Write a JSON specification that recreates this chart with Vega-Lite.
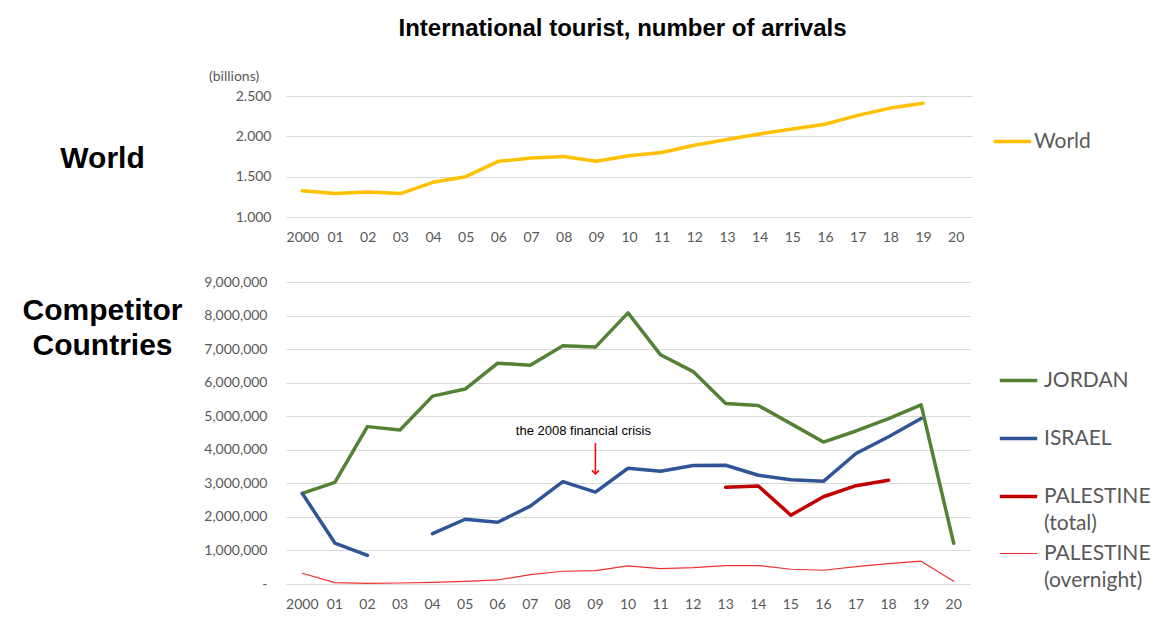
{
  "$schema": "https://vega.github.io/schema/vega-lite/v6.json",
  "background": "white",
  "padding": {"left": 22, "top": 17, "right": 0, "bottom": 0},
  "title": {"text": "International tourist, number of arrivals", "font": "Liberation Sans", "fontSize": 24, "fontWeight": "bold", "color": "#000000", "anchor": "middle", "offset": 29, "dx": 36},
  "config": {
    "font": "Lato",
    "view": {"stroke": null},
    "axis": {"labelFont": "Lato", "labelFontSize": 14, "labelColor": "#595959", "gridColor": "#D9D9D9", "gridWidth": 1, "domain": false, "ticks": false, "titleFont": "Liberation Sans", "titleFontSize": 30, "titleColor": "#000000", "titleFontWeight": "bold"},
    "axisX": {"grid": false, "labelAngle": 0, "labelPadding": 13},
    "axisY": {"grid": true, "labelPadding": 15},
    "legend": {"labelFont": "Lato", "labelFontSize": 21, "labelColor": "#595959", "symbolType": "stroke", "symbolSize": 1400, "labelOffset": 5, "title": null}
  },
  "datasets": {
    "world": [
      {"year": 2000, "value": 1.325, "series": "World"},
      {"year": 2001, "value": 1.29, "series": "World"},
      {"year": 2002, "value": 1.31, "series": "World"},
      {"year": 2003, "value": 1.29, "series": "World"},
      {"year": 2004, "value": 1.43, "series": "World"},
      {"year": 2005, "value": 1.50, "series": "World"},
      {"year": 2006, "value": 1.69, "series": "World"},
      {"year": 2007, "value": 1.73, "series": "World"},
      {"year": 2008, "value": 1.75, "series": "World"},
      {"year": 2009, "value": 1.69, "series": "World"},
      {"year": 2010, "value": 1.76, "series": "World"},
      {"year": 2011, "value": 1.80, "series": "World"},
      {"year": 2012, "value": 1.89, "series": "World"},
      {"year": 2013, "value": 1.96, "series": "World"},
      {"year": 2014, "value": 2.03, "series": "World"},
      {"year": 2015, "value": 2.09, "series": "World"},
      {"year": 2016, "value": 2.15, "series": "World"},
      {"year": 2017, "value": 2.26, "series": "World"},
      {"year": 2018, "value": 2.35, "series": "World"},
      {"year": 2019, "value": 2.41, "series": "World"}
    ],
    "comp": [
      {"year": 2000, "country": "JORDAN", "value": 2700000},
      {"year": 2001, "country": "JORDAN", "value": 3030000},
      {"year": 2002, "country": "JORDAN", "value": 4690000},
      {"year": 2003, "country": "JORDAN", "value": 4590000},
      {"year": 2004, "country": "JORDAN", "value": 5600000},
      {"year": 2005, "country": "JORDAN", "value": 5810000},
      {"year": 2006, "country": "JORDAN", "value": 6580000},
      {"year": 2007, "country": "JORDAN", "value": 6520000},
      {"year": 2008, "country": "JORDAN", "value": 7100000},
      {"year": 2009, "country": "JORDAN", "value": 7060000},
      {"year": 2010, "country": "JORDAN", "value": 8080000},
      {"year": 2011, "country": "JORDAN", "value": 6830000},
      {"year": 2012, "country": "JORDAN", "value": 6330000},
      {"year": 2013, "country": "JORDAN", "value": 5380000},
      {"year": 2014, "country": "JORDAN", "value": 5320000},
      {"year": 2015, "country": "JORDAN", "value": 4780000},
      {"year": 2016, "country": "JORDAN", "value": 4230000},
      {"year": 2017, "country": "JORDAN", "value": 4560000},
      {"year": 2018, "country": "JORDAN", "value": 4930000},
      {"year": 2019, "country": "JORDAN", "value": 5340000},
      {"year": 2020, "country": "JORDAN", "value": 1210000},
      {"year": 2000, "country": "ISRAEL", "value": 2700000},
      {"year": 2001, "country": "ISRAEL", "value": 1220000},
      {"year": 2002, "country": "ISRAEL", "value": 850000},
      {"year": 2003, "country": "ISRAEL", "value": null},
      {"year": 2004, "country": "ISRAEL", "value": 1500000},
      {"year": 2005, "country": "ISRAEL", "value": 1930000},
      {"year": 2006, "country": "ISRAEL", "value": 1840000},
      {"year": 2007, "country": "ISRAEL", "value": 2320000},
      {"year": 2008, "country": "ISRAEL", "value": 3050000},
      {"year": 2009, "country": "ISRAEL", "value": 2740000},
      {"year": 2010, "country": "ISRAEL", "value": 3450000},
      {"year": 2011, "country": "ISRAEL", "value": 3360000},
      {"year": 2012, "country": "ISRAEL", "value": 3530000},
      {"year": 2013, "country": "ISRAEL", "value": 3540000},
      {"year": 2014, "country": "ISRAEL", "value": 3240000},
      {"year": 2015, "country": "ISRAEL", "value": 3110000},
      {"year": 2016, "country": "ISRAEL", "value": 3060000},
      {"year": 2017, "country": "ISRAEL", "value": 3890000},
      {"year": 2018, "country": "ISRAEL", "value": 4390000},
      {"year": 2019, "country": "ISRAEL", "value": 4930000},
      {"year": 2013, "country": "PALESTINE (total)", "value": 2880000},
      {"year": 2014, "country": "PALESTINE (total)", "value": 2920000},
      {"year": 2015, "country": "PALESTINE (total)", "value": 2050000},
      {"year": 2016, "country": "PALESTINE (total)", "value": 2600000},
      {"year": 2017, "country": "PALESTINE (total)", "value": 2930000},
      {"year": 2018, "country": "PALESTINE (total)", "value": 3090000},
      {"year": 2000, "country": "PALESTINE (overnight)", "value": 320000},
      {"year": 2001, "country": "PALESTINE (overnight)", "value": 40000},
      {"year": 2002, "country": "PALESTINE (overnight)", "value": 20000},
      {"year": 2003, "country": "PALESTINE (overnight)", "value": 30000},
      {"year": 2004, "country": "PALESTINE (overnight)", "value": 50000},
      {"year": 2005, "country": "PALESTINE (overnight)", "value": 80000},
      {"year": 2006, "country": "PALESTINE (overnight)", "value": 120000},
      {"year": 2007, "country": "PALESTINE (overnight)", "value": 280000},
      {"year": 2008, "country": "PALESTINE (overnight)", "value": 380000},
      {"year": 2009, "country": "PALESTINE (overnight)", "value": 400000},
      {"year": 2010, "country": "PALESTINE (overnight)", "value": 540000},
      {"year": 2011, "country": "PALESTINE (overnight)", "value": 460000},
      {"year": 2012, "country": "PALESTINE (overnight)", "value": 490000},
      {"year": 2013, "country": "PALESTINE (overnight)", "value": 550000},
      {"year": 2014, "country": "PALESTINE (overnight)", "value": 550000},
      {"year": 2015, "country": "PALESTINE (overnight)", "value": 440000},
      {"year": 2016, "country": "PALESTINE (overnight)", "value": 410000},
      {"year": 2017, "country": "PALESTINE (overnight)", "value": 520000},
      {"year": 2018, "country": "PALESTINE (overnight)", "value": 610000},
      {"year": 2019, "country": "PALESTINE (overnight)", "value": 680000},
      {"year": 2020, "country": "PALESTINE (overnight)", "value": 80000}
    ]
  },
  "spacing": 31,
  "resolve": {
    "scale": {"color": "independent", "strokeWidth": "independent", "y": "independent"},
    "legend": {"color": "independent", "strokeWidth": "independent"}
  },
  "vconcat": [
    {
      "width": 686,
      "height": 121,
      "title": {"text": "(billions)", "anchor": "start", "frame": "group", "dx": -77, "offset": 5, "font": "Lato", "fontSize": 14, "fontWeight": "normal", "color": "#595959"},
      "data": {"name": "world"},
      "mark": {"type": "line", "strokeWidth": 3.5, "strokeJoin": "round", "strokeCap": "round"},
      "encoding": {
        "x": {"field": "year", "type": "ordinal", "title": null,
              "scale": {"domain": [2000,2001,2002,2003,2004,2005,2006,2007,2008,2009,2010,2011,2012,2013,2014,2015,2016,2017,2018,2019,2020]},
              "axis": {"labelExpr": "datum.value == 2000 ? '2000' : slice(datum.label, 2)"}},
        "y": {"field": "value", "type": "quantitative", "scale": {"domain": [1, 2.5]},
              "axis": {"values": [1, 1.5, 2, 2.5], "format": ".3f", "title": "World", "titleAngle": 0, "titleX": -184, "titleY": 62, "titleAlign": "center", "titleBaseline": "middle"}},
        "color": {"field": "series", "type": "nominal", "scale": {"domain": ["World"], "range": ["#FFC000"]},
                  "legend": {"orient": "none", "legendX": 706, "legendY": 25, "symbolStrokeWidth": 3.5, "labelOffset": 1}}
      }
    },
    {
      "width": 684,
      "height": 302,
      "encoding": {
        "x": {"field": "year", "type": "ordinal", "title": null,
              "scale": {"domain": [2000,2001,2002,2003,2004,2005,2006,2007,2008,2009,2010,2011,2012,2013,2014,2015,2016,2017,2018,2019,2020]},
              "axis": {"labelExpr": "datum.value == 2000 ? '2000' : slice(datum.label, 2)"}},
        "y": {"field": "value", "type": "quantitative", "scale": {"domain": [0, 9000000]},
              "axis": {"values": [0,1000000,2000000,3000000,4000000,5000000,6000000,7000000,8000000,9000000],
                       "labelExpr": "datum.value == 0 ? '-' : format(datum.value, ',')", "labelPadding": 19,
                       "title": ["Competitor", "Countries"], "titleAngle": 0, "titleX": -184, "titleY": 13, "titleAlign": "center", "titleBaseline": "top", "titleLineHeight": 35}}
      },
      "layer": [
        {
          "data": {"name": "comp"},
          "mark": {"type": "line", "strokeJoin": "round", "strokeCap": "round", "invalid": "break-paths-show-domains"},
          "encoding": {
            "color": {"field": "country", "type": "nominal",
                      "scale": {"domain": ["JORDAN", "ISRAEL", "PALESTINE (total)", "PALESTINE (overnight)"], "range": ["#548235", "#2F5597", "#C00000", "#F03030"]},
                      "legend": {"orient": "none", "legendX": 712, "legendY": 78, "rowPadding": -3, "gridAlign": "all", "labelOffset": 5, "labelExpr": "split(datum.label, ' ')",
                                 "encode": {"labels": {"update": {"lineHeight": {"value": 27}}}}}},
            "strokeWidth": {"field": "country", "type": "nominal",
                      "scale": {"type": "ordinal", "domain": ["JORDAN", "ISRAEL", "PALESTINE (total)", "PALESTINE (overnight)"], "range": [3.5, 3.5, 3.5, 1.2]},
                      "legend": {"orient": "none", "legendX": 712, "legendY": 78, "rowPadding": -3, "gridAlign": "all", "labelOffset": 5, "labelExpr": "split(datum.label, ' ')",
                                 "encode": {"labels": {"update": {"lineHeight": {"value": 27}}}}}}
          }
        },
        {
          "data": {"values": [{"year": 2009, "value": 4550000, "label": "the 2008 financial crisis"}]},
          "mark": {"type": "text", "font": "Liberation Sans", "fontSize": 13, "color": "#000000", "dx": -12},
          "encoding": {
            "text": {"field": "label"}
          }
        },
        {
          "data": {"values": [{"year": 2009, "value": 4200000, "value2": 3280000}]},
          "mark": {"type": "rule", "color": "#FF0000", "strokeWidth": 1.5},
          "encoding": {
            "y2": {"field": "value2"}
          }
        },
        {
          "data": {"values": [{"year": 2009, "value": 3280000}]},
          "mark": {"type": "point", "shape": "M -1 -1 L 0 0 L 1 -1", "filled": false, "color": "#FF0000", "strokeWidth": 1.5, "size": 50, "opacity": 1},
          "encoding": {}
        }
      ]
    }
  ]
}
